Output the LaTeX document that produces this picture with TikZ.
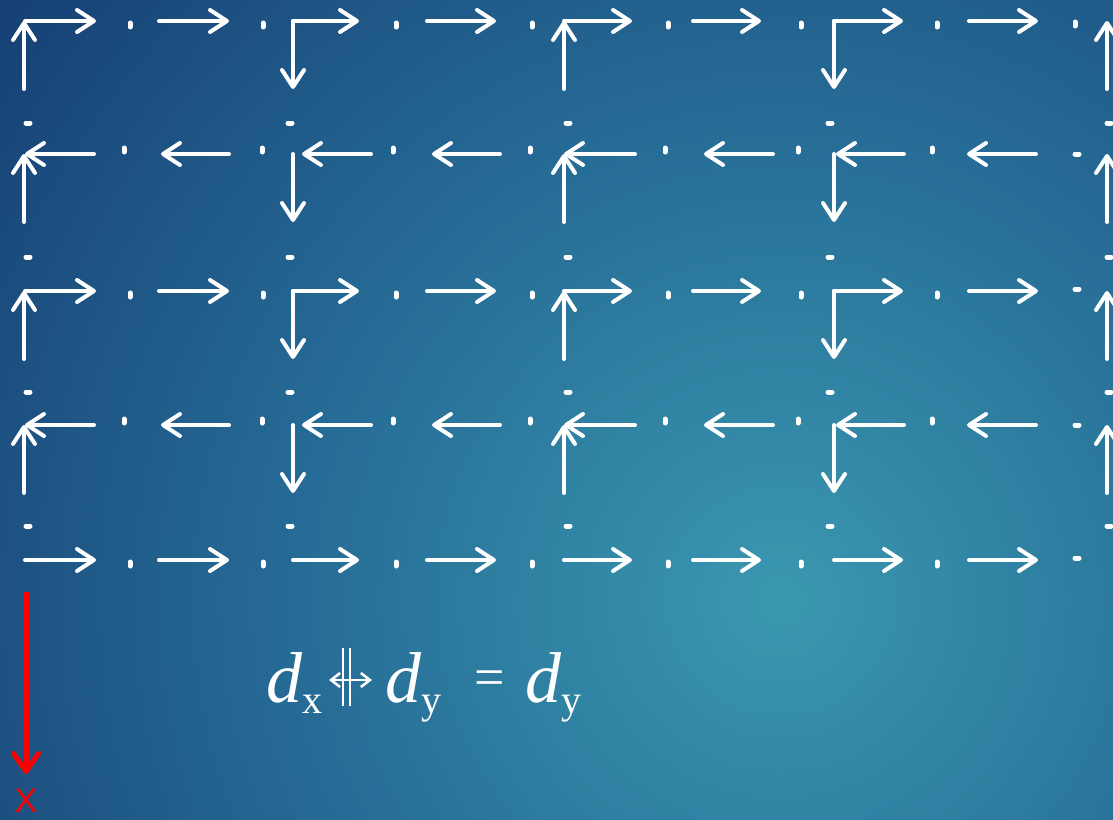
\documentclass[tikz,border=0pt]{standalone}
\usepackage{fontspec}
\setmainfont{Liberation Serif}
\newfontfamily\labfont{Liberation Sans}
\usetikzlibrary{arrows.meta}
\definecolor{bgdark}{RGB}{22,62,115}
\definecolor{bgblue}{RGB}{38,108,150}
\definecolor{bgmid}{RGB}{58,152,176}
\definecolor{xred}{RGB}{255,0,0}
\pgfdeclareradialshading{slidebg}{\pgfpoint{0bp}{0bp}}{color(0bp)=(bgmid); color(12bp)=(bgblue); color(25bp)=(bgdark); color(50bp)=(bgdark)}
\tikzset{
  arr/.style={white,line width=4pt,line cap=round,-{Straight Barb[length=17pt,width=22pt,round]}},
  dotv/.style={white,line width=5pt,line cap=round},
  redarr/.style={xred,line width=5pt,-{Straight Barb[length=18pt,width=25pt,round]}},
  relarr/.style={white,line width=2.6pt,{Straight Barb[length=9pt,width=14pt]}-{Straight Barb[length=9pt,width=14pt]}},
  relbar/.style={white,line width=2.6pt},
  formula/.style={inner sep=0pt,text=white,font=\fontsize{72}{72}\selectfont\itshape},
  xlbl/.style={inner sep=0pt,text=xred,font=\labfont\fontsize{34}{34}\selectfont},
}
\newcommand{\lowidx}[1]{\raisebox{-11pt}{\upshape\fontsize{40}{40}\selectfont #1}}

\begin{document}
\begin{tikzpicture}[x=1pt,y=-1pt]
\useasboundingbox (0,0) rectangle (1113,819);
\begin{scope}
  \clip (0,0) rectangle (1113,819);
  \fill[bgdark] (0,0) rectangle (1113,819);
  \shade[shading=slidebg] (780,600) circle (1000);
\end{scope}
% rows running to the right
\foreach \y in {21,291,560}{
  \foreach \a/\b/\p/\c/\d/\q in {25/96/130/159/229/263, 293/359/396/427/496/532,
      564/632/668/693/761/801, 834/903/937/969/1038/1075}{
    \draw[arr] (\a,\y) -- (\b,\y);
    \draw[arr] (\c,\y) -- (\d,\y);
    \draw[dotv] (\p,\y+2) -- (\p,\y+6);
    \ifnum\a<800 \draw[dotv] (\q,\y+2) -- (\q,\y+6); \fi
  }
}
% rows running to the left
\foreach \y in {154,425}{
  \foreach \a/\b/\p/\c/\d/\q in {25/94/124/161/229/262, 302/371/393/432/500/530,
      564/635/665/704/773/798, 836/904/932/967/1036/1076}{
    \draw[arr] (\b,\y) -- (\a,\y);
    \draw[arr] (\d,\y) -- (\c,\y);
    \draw[dotv] (\p,\y-6) -- (\p,\y-2);
    \ifnum\a<800 \draw[dotv] (\q,\y-6) -- (\q,\y-2); \fi
  }
}
% last dots on the right
\draw[dotv] (1075,22) -- (1075,26);
\foreach \y in {154,289,425,558}
  \draw[dotv] (1075,\y) -- (1079,\y);
% vertical arrows
\foreach \y in {21,154,291,425}{
  \foreach \x in {24,564,1107}
    \draw[arr] (\x,\y+68) -- (\x,\y);
  \foreach \x in {293,834}
    \draw[arr] (\x,\y) -- (\x,\y+68);
}
% dots between the rows
\foreach \x in {28,290,568,830,1109}
  \foreach \y in {123,257,392,526}
    \draw[dotv] (\x-2,\y) -- (\x+2,\y);

% red axis
\coordinate (xtop) at (26,592);
\coordinate (xend) at (26,774);
\draw[redarr] (xtop) -- (xend);
\node[xlbl,anchor=base] (xlab) at (26,812) {X};

% relation
\node[formula,anchor=base west] (dx) at (266,702) {d\lowidx{x}};
\coordinate (rell) at (329,680);
\coordinate (relr) at (372,680);
\draw[relarr] (rell) -- (relr);
\draw[relbar] (343,648) -- (343,706);
\draw[relbar] (350,648) -- (350,706);
\node[formula,anchor=base west] (dy) at (385,702) {d\lowidx{y}};
\node[formula,anchor=base west,font=\fontsize{54}{54}\selectfont] (eq) at (474,695) {=};
\node[formula,anchor=base west] (dres) at (525,702) {d\lowidx{y}};
\end{tikzpicture}
\end{document}
